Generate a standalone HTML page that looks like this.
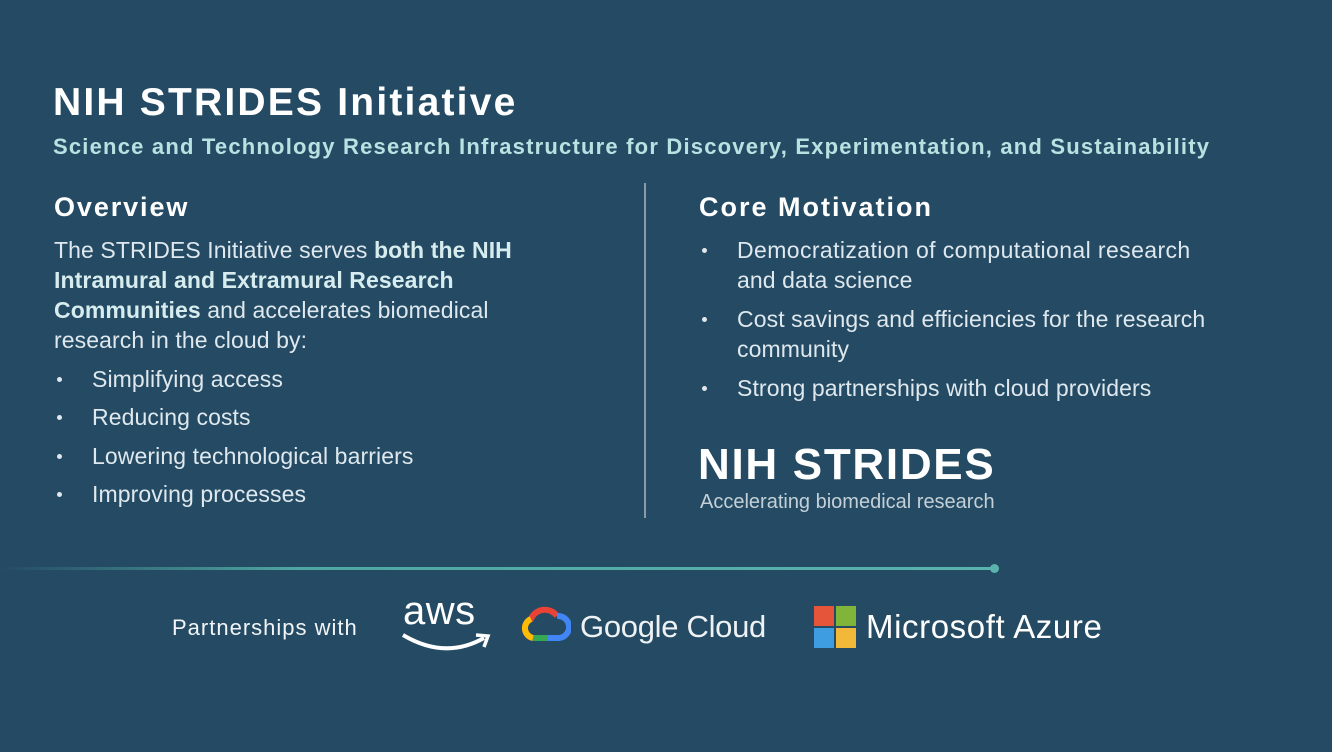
<!DOCTYPE html>
<html><head><meta charset="utf-8"><style>
body{margin:0;width:1332px;height:752px;background:#244b63;overflow:hidden;position:relative;font-family:"Liberation Sans",sans-serif;color:#e8eef2}
.a{position:absolute;white-space:nowrap}
.t{font-size:23px;line-height:30px;color:#dfe8ee;letter-spacing:0.1px}
.b{font-weight:bold;color:#d7ecee}
.dot{position:absolute;width:5px;height:5px;border-radius:50%;background:#e0e8ee}
</style></head><body>
<div class="a" style="left:53px;top:81px;font-size:39px;font-weight:bold;color:#fff;letter-spacing:2.2px">NIH STRIDES Initiative</div>
<div class="a" style="left:53px;top:134px;font-size:22px;font-weight:bold;color:#b8e2e2;letter-spacing:1.2px">Science and Technology Research Infrastructure for Discovery, Experimentation, and Sustainability</div>

<div class="a" style="left:54px;top:192px;font-size:27px;font-weight:bold;color:#fff;letter-spacing:1.9px">Overview</div>
<div class="a t" style="left:54px;top:235px">The STRIDES Initiative serves <span class="b">both the NIH</span></div>
<div class="a t b" style="left:54px;top:265px">Intramural and Extramural Research</div>
<div class="a t" style="left:54px;top:295px"><span class="b">Communities</span> and accelerates biomedical</div>
<div class="a t" style="left:54px;top:325px">research in the cloud by:</div>
<div class="dot" style="left:57px;top:377px"></div><div class="a t" style="left:92px;top:364px">Simplifying access</div>
<div class="dot" style="left:57px;top:415px"></div><div class="a t" style="left:92px;top:402px">Reducing costs</div>
<div class="dot" style="left:57px;top:454px"></div><div class="a t" style="left:92px;top:441px">Lowering technological barriers</div>
<div class="dot" style="left:57px;top:492px"></div><div class="a t" style="left:92px;top:479px">Improving processes</div>

<div style="position:absolute;left:644px;top:183px;width:2px;height:335px;background:#8a9ba8"></div>

<div class="a" style="left:699px;top:192px;font-size:27px;font-weight:bold;color:#fff;letter-spacing:2px">Core Motivation</div>
<div class="dot" style="left:702px;top:248px"></div><div class="a t" style="left:737px;top:235px;letter-spacing:0.4px">Democratization of computational research</div>
<div class="a t" style="left:737px;top:265px">and data science</div>
<div class="dot" style="left:702px;top:317px"></div><div class="a t" style="left:737px;top:304px">Cost savings and efficiencies for the research</div>
<div class="a t" style="left:737px;top:334px">community</div>
<div class="dot" style="left:702px;top:386px"></div><div class="a t" style="left:737px;top:373px">Strong partnerships with cloud providers</div>

<div class="a" style="left:698px;top:440px;font-size:44px;font-weight:bold;color:#fff;letter-spacing:1.7px">NIH STRIDES</div>
<div class="a" style="left:700px;top:491px;font-size:20px;color:#c4d0d8;letter-spacing:0px">Accelerating biomedical research</div>

<div style="position:absolute;left:0;top:567px;width:995px;height:3px;background:linear-gradient(90deg,rgba(80,170,165,0),#4fa7a2 30%,#5ab3ad)"></div>
<div style="position:absolute;left:990px;top:564px;width:9px;height:9px;border-radius:50%;background:#5ab3ad"></div>

<div class="a" style="left:172px;top:615px;font-size:22px;color:#f2f5f7;letter-spacing:1px">Partnerships with</div>
<div class="a" style="left:403px;top:589px;font-size:40px;color:#fff;letter-spacing:0.5px">aws</div>
<svg style="position:absolute;left:400px;top:630px" width="92" height="26"><path d="M3 5 Q45 30 84 8" stroke="#fff" stroke-width="4" fill="none"/><path d="M76 5 L88 6 L84 17" stroke="#fff" stroke-width="3.5" fill="none"/></svg>
<svg style="position:absolute;left:521px;top:606px" width="50" height="40" viewBox="0 0 50 40">
<path d="M12 32 A10 10 0 0 1 10 13 A15 15 0 0 1 36 10" stroke="#ea4335" stroke-width="6" fill="none"/>
<path d="M36 10 A11 11 0 0 1 38 32 L26 32" stroke="#4285f4" stroke-width="6" fill="none"/>
<path d="M26 32 L12 32" stroke="#34a853" stroke-width="6"/>
<path d="M10 13 A10 10 0 0 0 12 32" stroke="#fbbc05" stroke-width="6" fill="none"/>
</svg>
<div class="a" style="left:580px;top:609px;font-size:31px;color:#eef2f4;letter-spacing:-0.3px">Google Cloud</div>
<div style="position:absolute;left:814px;top:606px;width:20px;height:20px;background:#e4553a"></div>
<div style="position:absolute;left:836px;top:606px;width:20px;height:20px;background:#80b53a"></div>
<div style="position:absolute;left:814px;top:628px;width:20px;height:20px;background:#3d9de0"></div>
<div style="position:absolute;left:836px;top:628px;width:20px;height:20px;background:#f1b83a"></div>
<div class="a" style="left:866px;top:608px;font-size:33px;color:#fff;letter-spacing:0.6px">Microsoft Azure</div>
</body></html>
